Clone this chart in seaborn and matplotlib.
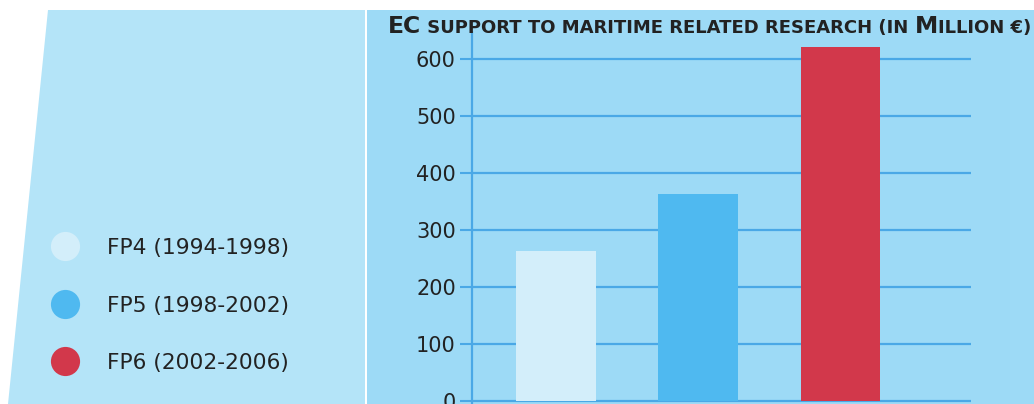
import matplotlib
matplotlib.use("Agg")
import matplotlib.pyplot as plt
from matplotlib.patches import Polygon, Rectangle
from matplotlib.lines import Line2D
import seaborn as sns
import pandas as pd

# ---- data ----
programmes = ["FP4 (1994-1998)", "FP5 (1998-2002)", "FP6 (2002-2006)"]
funding = [262, 363, 621]
bar_colors = ["#d3eefa", "#4fb9f0", "#d2384b"]
yticks = [0, 100, 200, 300, 400, 500, 600]
title_parts = [("EC", "big"), (" SUPPORT TO MARITIME RELATED RESEARCH (IN ", "small"),
               ("M", "big"), ("ILLION €)", "small")]

sns.set_theme(style="white")
plt.rcParams["font.family"] = ["DejaVu Sans"]

W, H = 1034, 404
fig = plt.figure(figsize=(W / 100, H / 100), dpi=100)
fig.patch.set_facecolor("white")

def fx(px):
    return px / W

def fy(py):
    return 1 - py / H

left_bg = "#b4e4f8"
right_bg = "#9ddaf6"
grid_c = "#4aa8e6"
text_c = "#222222"

# background panels
fig.add_artist(Polygon([(fx(48), fy(10)), (fx(365), fy(10)), (fx(365), 0), (fx(8), 0)],
                       closed=True, transform=fig.transFigure, facecolor=left_bg,
                       edgecolor="none", zorder=0))
fig.add_artist(Rectangle((fx(367), 0), 1 - fx(367), fy(10), transform=fig.transFigure,
                         facecolor=right_bg, edgecolor="none", zorder=0))

# main axes
ax_left, ax_right = 471.8, 970.5
ax_top = 31.7
ax = fig.add_axes([fx(ax_left), 0, fx(ax_right) - fx(ax_left), fy(ax_top)])
ax.set_facecolor("none")

df = pd.DataFrame({"programme": programmes, "funding": funding})
sns.barplot(data=df, x="programme", y="funding", hue="programme",
            palette=bar_colors, width=0.56, legend=False, ax=ax,
            saturation=1, zorder=3, linewidth=0)

ax.set_xlim(-0.59, 2.913)
ax.set_ylim(-5.8, 647.6)
ax.set_yticks(yticks)
ax.set_yticklabels([str(v) for v in yticks], fontsize=15, color=text_c)
ax.set_xticks([])
ax.set_xlabel("")
ax.set_ylabel("")
ax.tick_params(axis="y", length=9, width=1.5, color=grid_c, pad=2.5, left=True)
for v in yticks:
    ax.axhline(v, color=grid_c, linewidth=1.6, zorder=1)
for s in ["top", "right", "bottom"]:
    ax.spines[s].set_visible(False)
ax.spines["left"].set_color(grid_c)
ax.spines["left"].set_linewidth(1.6)

# title in emulated small caps
fig.canvas.draw()
renderer = fig.canvas.get_renderer()
target_left, target_right = 388, 1030
sizes = {"big": 12.0, "small": 9.2}

def layout(scale):
    total = 0
    objs = []
    for txt, kind in title_parts:
        t = fig.text(0, 0, txt, fontsize=sizes[kind] * scale, fontweight="bold", color=text_c)
        w = t.get_window_extent(renderer).width
        objs.append((t, w))
        total += w
    return objs, total

objs, total = layout(1.0)
scale = (target_right - target_left) / total
for t, _ in objs:
    t.remove()
objs, total = layout(scale)
x = target_left
for t, w in objs:
    t.set_position((fx(x), fy(33)))
    x += w

# legend
handles = [Line2D([0], [0], marker="o", linestyle="none", markersize=21,
                  markerfacecolor=c, markeredgecolor="none") for c in bar_colors]
fig.legend(handles, programmes, loc="upper left", bbox_to_anchor=(fx(43), fy(238)),
           frameon=False, fontsize=15.7, labelspacing=1.72, handletextpad=0.95,
           labelcolor=text_c, borderaxespad=0, borderpad=0)

fig.savefig("out.png", dpi=100, facecolor=fig.get_facecolor())
